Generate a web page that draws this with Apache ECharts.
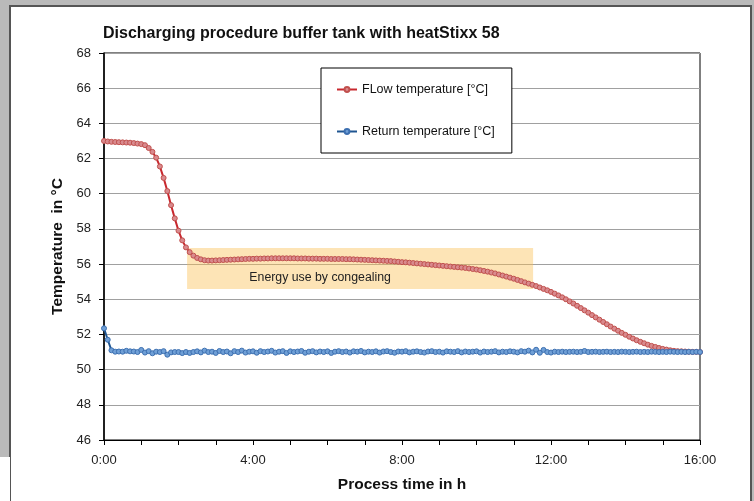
<!DOCTYPE html>
<html>
<head>
<meta charset="utf-8">
<script src="https://cdn.jsdelivr.net/npm/echarts@6/dist/echarts.min.js"></script>
<style>
html,body{margin:0;padding:0;background:#bababa;width:754px;height:501px;overflow:hidden;}
#frame{position:absolute;left:9px;top:5px;width:739px;height:496px;background:#fff;border-left:2px solid #555;border-top:2px solid #555;border-right:2px solid #555;}
#patch{position:absolute;left:0;top:457px;width:10px;height:44px;background:#fff;}
#chart{position:absolute;left:0;top:0;width:754px;height:501px;}
</style>
</head>
<body>
<div id="frame"></div>
<div id="patch"></div>
<div id="chart"></div>
<script>
// ---- data ----
const titleText = 'Discharging procedure buffer tank with heatStixx 58';
const flowName = 'FLow temperature [°C]';
const returnName = 'Return temperature [°C]';
const xAxisTitle = 'Process time in h';
const yAxisTitle = 'Temperature  in °C';
const sampleStepHours = 0.1; // one reading every 6 minutes
const xTickLabels = ['0:00', '4:00', '8:00', '12:00', '16:00'];
const yTickLabels = [46, 48, 50, 52, 54, 56, 58, 60, 62, 64, 66, 68];

const flowTemp = [
  63.00, 62.97, 62.95, 62.94, 62.93, 62.92, 62.91, 62.90, 62.88, 62.85,
  62.82, 62.76, 62.60, 62.38, 62.05, 61.55, 60.90, 60.15, 59.35, 58.60,
  57.90, 57.35, 56.95, 56.68, 56.48, 56.35, 56.27, 56.22, 56.20, 56.20,
  56.21, 56.22, 56.23, 56.24, 56.25, 56.26, 56.27, 56.28, 56.29, 56.30,
  56.30, 56.31, 56.31, 56.32, 56.32, 56.33, 56.33, 56.33, 56.33, 56.33,
  56.33, 56.33, 56.32, 56.32, 56.32, 56.31, 56.31, 56.31, 56.30, 56.30,
  56.30, 56.29, 56.29, 56.29, 56.29, 56.28, 56.28, 56.27, 56.26, 56.25,
  56.24, 56.23, 56.22, 56.21, 56.20, 56.19, 56.18, 56.17, 56.15, 56.13,
  56.11, 56.10, 56.08, 56.06, 56.04, 56.02, 56.00, 55.98, 55.96, 55.94,
  55.92, 55.90, 55.88, 55.86, 55.84, 55.82, 55.80, 55.78, 55.75, 55.72,
  55.69, 55.65, 55.61, 55.57, 55.52, 55.47, 55.41, 55.35, 55.29, 55.23,
  55.17, 55.10, 55.03, 54.96, 54.89, 54.82, 54.75, 54.67, 54.59, 54.51,
  54.42, 54.32, 54.22, 54.11, 54.00, 53.88, 53.76, 53.63, 53.50, 53.37,
  53.24, 53.10, 52.97, 52.84, 52.71, 52.58, 52.45, 52.33, 52.21, 52.09,
  51.98, 51.87, 51.77, 51.67, 51.58, 51.50, 51.42, 51.35, 51.29, 51.23,
  51.18, 51.14, 51.10, 51.07, 51.05, 51.04, 51.03, 51.02, 51.01, 51.01,
  51.00
];

const returnTemp = [
  52.35, 51.70, 51.10,
  51.02, 51.03, 51.02, 51.07, 51.04, 51.03, 51.00, 51.12, 50.97, 51.05,
  50.93, 51.02, 51.00, 51.05, 50.85, 50.98, 51.00, 51.00, 50.94, 51.00,
  50.95, 51.00, 51.04, 50.98, 51.08, 51.00, 51.02, 50.95, 51.06, 51.00,
  51.03, 50.93, 51.05, 51.00, 51.08, 50.97, 51.02, 51.04, 50.96, 51.05,
  51.00, 51.03, 51.07, 50.97, 51.02, 51.05, 50.95, 51.04, 51.00, 51.03,
  51.06, 50.96, 51.02, 51.05, 50.98, 51.03, 51.00, 51.04, 50.95, 51.02,
  51.05, 51.00, 51.03, 50.97, 51.04, 51.02, 51.06, 50.98, 51.02, 51.00,
  51.04, 50.97, 51.03, 51.05, 51.00, 50.96, 51.03, 51.02, 51.05, 50.98,
  51.02, 51.04, 51.00, 50.97, 51.03, 51.05, 51.00, 51.02, 50.97, 51.04,
  51.02, 51.00, 51.05, 50.98, 51.03, 51.00, 51.02, 51.04, 50.97, 51.03,
  51.00, 51.02, 51.05, 50.98, 51.02, 51.00, 51.04, 51.02, 50.98, 51.05,
  51.02, 51.08, 50.98, 51.13, 50.96, 51.12, 51.00, 50.97, 51.02, 51.00,
  51.02, 51.00, 51.01, 51.02, 51.00, 51.01, 51.06, 51.00, 51.01, 51.02,
  51.00, 51.01, 51.02, 51.00, 51.01, 51.00, 51.02, 51.01, 51.00, 51.01,
  51.02, 51.00, 51.01, 51.00, 51.02, 51.01, 51.00, 51.01, 51.00, 51.02,
  51.01, 51.00, 51.01, 51.00, 51.01, 51.00, 51.01, 51.00
];

const congealLabel = 'Energy use by congealing';
const congealStartH = 2.23, congealEndH = 11.52;
const congealTop = 56.92, congealBottom = 54.58;

// ---- chart ----
const FONT = "'Liberation Sans', Arial, sans-serif";
const toPairs = arr => arr.map((v, i) => [+(i * sampleStepHours).toFixed(2), v]);

const chart = echarts.init(document.getElementById('chart'), null, {renderer: 'canvas'});
chart.setOption({
  backgroundColor: 'transparent',
  animation: false,
  textStyle: {fontFamily: FONT},
  title: {
    text: titleText, left: 103, top: 26, padding: 0,
    textStyle: {fontFamily: FONT, fontSize: 16, fontWeight: 'bold', color: '#111'}
  },
  legend: {
    orient: 'vertical', left: 321, top: 68,
    padding: [14, 17, 14, 15],
    itemGap: 27, itemWidth: 20, itemHeight: 6,
    backgroundColor: '#fff', borderColor: '#000', borderWidth: 1,
    textStyle: {fontFamily: FONT, fontSize: 12.5, color: '#111', lineHeight: 15},
    data: [flowName, returnName]
  },
  grid: {left: 104, right: 54, top: 53, bottom: 61, show: true, borderColor: '#000', borderWidth: 1, backgroundColor: 'transparent'},
  xAxis: {
    type: 'value', min: 0, max: 16, interval: 4,
    name: xAxisTitle, nameLocation: 'middle', nameGap: 37,
    nameTextStyle: {fontFamily: FONT, fontSize: 15.5, fontWeight: 'bold', color: '#111'},
    axisLine: {show: true, lineStyle: {color: '#000', width: 1}},
    axisTick: {show: true, length: 5, lineStyle: {color: '#000'}},
    minorTick: {show: true, splitNumber: 4, length: 5, lineStyle: {color: '#000'}},
    splitLine: {show: false},
    axisLabel: {
      fontFamily: FONT, fontSize: 13, color: '#222', margin: 14,
      formatter: v => xTickLabels[Math.round(v / 4)] || ''
    }
  },
  yAxis: {
    type: 'value', min: 46, max: 68, interval: 2,
    name: yAxisTitle, nameLocation: 'middle', nameGap: 38, nameRotate: 90,
    nameTextStyle: {fontFamily: FONT, fontSize: 15.5, fontWeight: 'bold', color: '#111'},
    axisLine: {show: true, lineStyle: {color: '#000', width: 1.5}},
    axisTick: {show: true, length: 5, lineStyle: {color: '#000'}},
    splitLine: {show: true, lineStyle: {color: '#a0a0a0', width: 1}},
    axisLabel: {
      fontFamily: FONT, fontSize: 13, color: '#222', margin: 13,
      formatter: v => (yTickLabels.indexOf(v) >= 0 ? String(v) : '')
    }
  },
  series: [
    {
      name: flowName, type: 'line', data: toPairs(flowTemp),
      symbol: 'circle', symbolSize: 5, showSymbol: true,
      lineStyle: {color: '#c8282e', width: 2},
      itemStyle: {color: '#d98a8e', borderColor: '#c0504d', borderWidth: 1},
      z: 3,
      markArea: {
        silent: true,
        itemStyle: {color: 'rgba(250,190,80,0.42)'},
        label: {
          show: true, position: ['18%', '57%'],
          fontFamily: FONT, fontSize: 12.3, color: '#222'
        },
        data: [[
          {name: congealLabel, xAxis: congealStartH, yAxis: congealTop},
          {xAxis: congealEndH, yAxis: congealBottom}
        ]]
      }
    },
    {
      name: returnName, type: 'line', data: toPairs(returnTemp),
      symbol: 'circle', symbolSize: 5, showSymbol: true,
      lineStyle: {color: '#1f5591', width: 2},
      itemStyle: {color: '#6f9fd6', borderColor: '#3c6fb0', borderWidth: 1},
      z: 4
    }
  ]
});
</script>
</body>
</html>
